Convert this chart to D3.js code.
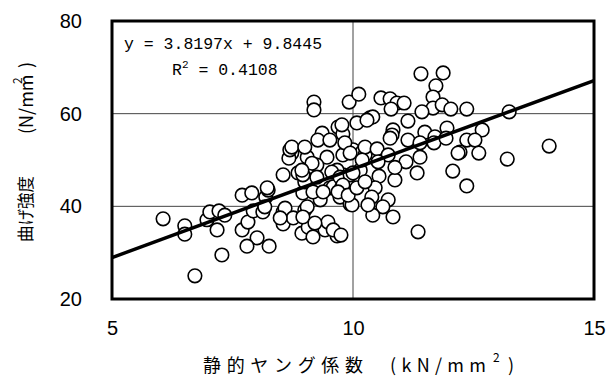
<!DOCTYPE html>
<html>
<head>
<meta charset="utf-8">
<script src="https://cdn.jsdelivr.net/npm/d3@7/dist/d3.min.js"></script>
<style>
  body { margin: 0; background: #fff; }
  svg { display: block; }
</style>
</head>
<body>
<div id="chart"></div>
<script>
// axis ticks
const xTicks = [5, 10, 15];
const yTicks = [20, 40, 60, 80];

// 静的ヤング係数 (kN/mm2)
const youngModulus = [
  6.06, 6.72, 6.51, 6.51, 7.28, 7.18, 6.97, 7.03, 7.22, 7.34,
  7.70, 7.90, 7.70, 7.82, 7.93, 8.13, 8.19, 8.24, 8.01, 7.80,
  8.26, 8.55, 8.59, 8.55, 8.76, 8.96, 9.00, 8.94, 9.07, 9.17,
  9.05, 9.42, 9.67, 9.32, 9.00, 9.17, 9.52, 9.73, 8.55, 8.86,
  8.73, 9.05, 9.46, 9.79, 9.59, 9.25, 9.67, 9.17, 8.22, 8.17,
  9.48, 9.59, 9.94, 8.67, 8.69, 9.15, 9.79, 10.00, 10.19, 8.96,
  9.25, 8.94, 9.56, 9.73, 9.94, 10.15, 9.77, 9.19, 9.19, 9.92,
  10.12, 10.08, 10.35, 9.36, 9.69, 9.79, 9.83, 9.27, 8.73, 9.77,
  9.52, 9.00, 11.41, 11.87, 11.72, 11.66, 11.66, 11.85, 12.03, 12.36,
  11.43, 11.14, 10.58, 10.77, 10.91, 11.06, 10.79, 10.41, 10.29, 13.24,
  12.68, 14.07, 13.20, 10.83, 10.81, 11.49, 11.95, 11.14, 11.70, 11.39,
  12.36, 12.53, 11.68, 11.93, 12.61, 12.22, 11.39, 10.25, 10.77, 11.33,
  11.10, 10.87, 10.54, 10.46, 10.39, 10.73, 10.62, 10.83, 10.41, 10.31,
  11.35, 12.07, 12.36, 12.18, 9.98, 9.79, 10.00, 9.75, 10.25, 10.50,
  10.73, 10.19, 10.52, 9.94, 10.87, 8.96, 8.49, 9.21, 9.38, 9.69,
  9.90, 10.08, 10.25
];

// 曲げ強度 (N/mm2)
const bendingStrength = [
  37.3, 25.0, 35.8, 34.0, 29.5, 34.9, 37.1, 38.8, 39.0, 38.1,
  42.4, 42.9, 34.9, 36.6, 39.0, 38.8, 42.0, 43.5, 33.2, 31.4,
  31.4, 38.8, 39.6, 36.2, 37.5, 42.9, 39.2, 34.2, 35.5, 33.4,
  39.9, 34.9, 33.6, 41.4, 45.3, 48.5, 44.0, 42.0, 46.8, 47.2,
  51.5, 50.6, 50.6, 46.8, 44.2, 48.9, 47.8, 43.1, 44.0, 39.9,
  36.6, 34.9, 40.5, 50.4, 52.2, 49.3, 51.1, 52.2, 51.7, 46.8,
  46.3, 47.8, 47.4, 46.3, 46.8, 47.8, 44.2, 62.5, 60.8, 62.5,
  64.2, 58.0, 59.1, 55.8, 57.1, 55.6, 53.7, 54.3, 52.8, 57.6,
  54.3, 52.8, 68.6, 68.8, 66.0, 63.6, 61.2, 61.9, 61.0, 61.0,
  60.4, 58.4, 63.4, 63.2, 62.3, 62.3, 61.0, 59.3, 58.6, 60.4,
  56.5, 53.0, 50.2, 56.5, 55.4, 56.0, 56.9, 54.3, 55.0, 53.7,
  54.3, 54.3, 53.7, 54.7, 51.5, 51.7, 50.6, 51.1, 54.7, 47.2,
  49.6, 45.7, 46.5, 44.0, 42.0, 41.4, 39.9, 37.7, 38.1, 40.3,
  34.5, 47.6, 44.4, 51.5, 40.3, 44.6, 47.2, 33.8, 52.8, 52.4,
  51.1, 50.0, 49.6, 51.5, 48.4, 37.7, 37.5, 36.4, 43.1, 43.1,
  42.4, 44.0, 45.3
];

// 近似直線
const slope = 3.8197;
const intercept = 9.8445;

const width = 606, height = 380;
const margin = { top: 21, right: 12, bottom: 81, left: 112 };

const svg = d3.select("#chart").append("svg")
  .attr("width", width)
  .attr("height", height);

const x = d3.scaleLinear().domain([5, 15]).range([margin.left, width - margin.right]);
const y = d3.scaleLinear().domain([20, 80]).range([height - margin.bottom, margin.top]);

// gridlines
svg.append("g")
  .selectAll("line")
  .data(xTicks.slice(1, -1))
  .enter().append("line")
  .attr("x1", d => x(d)).attr("x2", d => x(d))
  .attr("y1", y(20)).attr("y2", y(80))
  .attr("stroke", "#444").attr("stroke-width", 1);

svg.append("g")
  .selectAll("line")
  .data(yTicks.slice(1, -1))
  .enter().append("line")
  .attr("x1", x(5)).attr("x2", x(15))
  .attr("y1", d => y(d)).attr("y2", d => y(d))
  .attr("stroke", "#444").attr("stroke-width", 1);

// axes (labels only)
const xAxis = svg.append("g")
  .attr("transform", `translate(0, ${y(20)})`)
  .call(d3.axisBottom(x).tickValues(xTicks).tickSize(0).tickPadding(22));
const yAxis = svg.append("g")
  .attr("transform", `translate(${x(5)}, 0)`)
  .call(d3.axisLeft(y).tickValues(yTicks).tickSize(0).tickPadding(30));
[xAxis, yAxis].forEach(g => {
  g.select(".domain").remove();
  g.selectAll("text")
    .attr("font-family", "'Liberation Sans', Arial, sans-serif")
    .attr("font-size", 20)
    .attr("fill", "#000");
});

// points
const points = youngModulus.map((v, i) => ({ x: v, y: bendingStrength[i] }));
svg.append("g")
  .selectAll("circle")
  .data(points)
  .enter().append("circle")
  .attr("cx", d => x(d.x))
  .attr("cy", d => y(d.y))
  .attr("r", 6.8)
  .attr("fill", "#fff")
  .attr("stroke", "#000")
  .attr("stroke-width", 1.6);

// regression line
const line = d3.line().x(d => x(d)).y(d => y(slope * d + intercept));
svg.append("path")
  .datum([5, 15])
  .attr("d", line)
  .attr("fill", "none")
  .attr("stroke", "#000")
  .attr("stroke-width", 3.5);

// frame
svg.append("rect")
  .attr("x", x(5)).attr("y", y(80))
  .attr("width", x(15) - x(5)).attr("height", y(20) - y(80))
  .attr("fill", "none")
  .attr("stroke", "#000")
  .attr("stroke-width", 3);

// equation
const eq = svg.append("g")
  .attr("font-family", "'Liberation Mono', 'DejaVu Sans Mono', monospace")
  .attr("font-size", 16.5);
eq.append("text")
  .attr("x", 124).attr("y", 49)
  .text(`y = ${slope}x + ${intercept}`);
const r2 = eq.append("text").attr("x", 172).attr("y", 75);
r2.append("tspan").text("R");
r2.append("tspan").attr("font-size", 11).attr("dy", -7).text("2");
r2.append("tspan").attr("dy", 7).text(" = 0.4108");

// axis titles
const jp = "'Noto Sans CJK JP', sans-serif";
const xt = svg.append("g").attr("font-family", jp).attr("font-size", 18);
xt.append("text").attr("x", 203).attr("y", 372)
  .attr("textLength", 160).attr("lengthAdjust", "spacing")
  .text("静的ヤング係数");
xt.append("text").attr("x", 390).attr("y", 372)
  .attr("textLength", 97).attr("lengthAdjust", "spacing")
  .attr("letter-spacing", 1)
  .text("(kN/mm");
xt.append("text").attr("x", 493).attr("y", 362).attr("font-size", 12).text("2");
xt.append("text").attr("x", 508).attr("y", 372).text(")");

const yt = svg.append("g").attr("font-family", jp).attr("font-size", 16.5);
yt.append("text").attr("transform", "translate(32, 242) rotate(-90)")
  .text("曲げ強度");
yt.append("text").attr("transform", "translate(33, 134) rotate(-90)")
  .attr("font-size", 18)
  .text("(N/mm");
yt.append("text").attr("transform", "translate(22, 84) rotate(-90)")
  .attr("font-size", 12).text("2");
yt.append("text").attr("transform", "translate(33, 68) rotate(-90)")
  .attr("font-size", 18).text(")");
</script>
</body>
</html>
